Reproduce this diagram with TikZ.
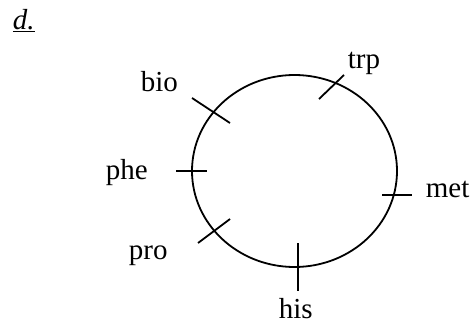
\documentclass[tikz,border=0pt]{standalone}
\usepackage{fontspec}
\setmainfont{Liberation Serif}
\begin{document}
\begin{tikzpicture}[x=1pt,y=-1pt,line width=1.8pt,
  lab/.style={anchor=base west,inner sep=0pt,font=\fontsize{29}{31}\selectfont},
  tick/.style={line width=1.8pt}]
\useasboundingbox (0,0) rectangle (474,324);
\node[lab] (d) at (12,29) {\underline{\textit{d.}}};
\draw (294.5,171) ellipse [x radius=102.5, y radius=96];
\draw[tick] (192,98) -- (230,123);
\draw[tick] (319,99) -- (344,75);
\draw[tick] (176,171) -- (207,171);
\draw[tick] (382,195) -- (412,195);
\draw[tick] (198,243) -- (230,219);
\draw[tick] (298,243) -- (298,291);
\node[lab] (trp) at (347,68) {trp};
\node[lab] (bio) at (140,91) {bio};
\node[lab] (phe) at (105,179) {phe};
\node[lab] (met) at (425,197) {met};
\node[lab] (pro) at (128,259) {pro};
\node[lab] (his) at (278,318) {his};
\end{tikzpicture}
\end{document}
